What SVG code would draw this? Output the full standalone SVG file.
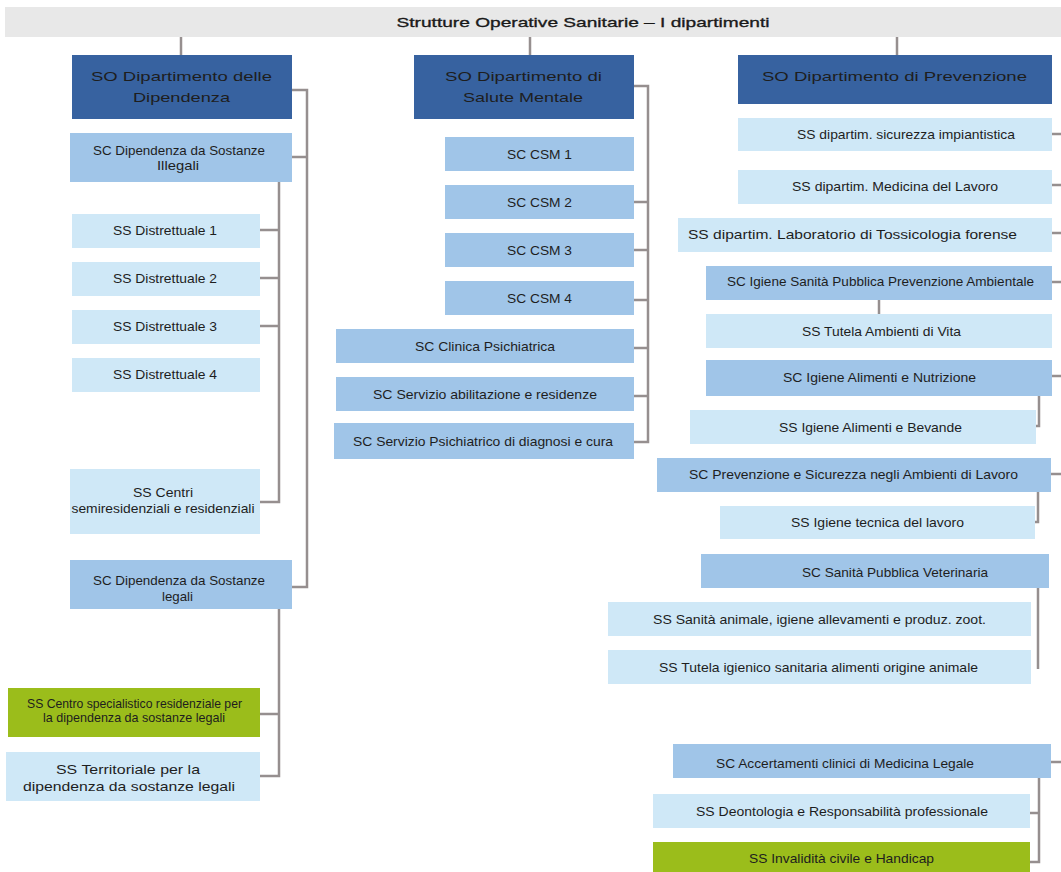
<svg xmlns="http://www.w3.org/2000/svg" width="1061" height="872" viewBox="0 0 1061 872">
<style>
text{font-family:"Liberation Sans",Arial,sans-serif;fill:#1e1e1e;text-anchor:middle;dominant-baseline:central;font-size:13px}
.dept{fill:#3762a0}
.dept text{fill:#ffffff;font-size:18px}
.sc{fill:#a0c5e8}
.ss{fill:#cfe8f7}
.gr{fill:#9bbd1b}
.con{stroke:#968f8f;fill:none;stroke-width:2.5}
</style>
<rect id="title-bar" x="5" y="7" width="1056" height="30" fill="#e8e8e8"/>
<text x="583" y="22" font-size="20" textLength="373" lengthAdjust="spacingAndGlyphs" fill="#111" stroke="#111" stroke-width="0.3">Strutture Operative Sanitarie – I dipartimenti</text>

<g id="connectors">
<path class="con" stroke-width="2" d="M181 37V55M530 37V55M897 37V55"/>
<path class="con" stroke-width="3" d="M292 90H307V587H292M292 157H307"/>
<path class="con" stroke-width="3" d="M279 182V502H260M260 230H279M260 278H279M260 326H279"/>
<path class="con" stroke-width="3" d="M279 609V776H260M260 714H279"/>
<path class="con" d="M634 86H648V442H634M634 202H648M634 250H648M634 300H648M634 348H648M634 396H648"/>
<path class="con" d="M1052 134H1061M1052 185H1061M1052 233H1061M1052 282H1061M1052 376H1061M1051 474H1061M1051 762H1061"/>
<path class="con" d="M879 300V314"/>
<path class="con" d="M1039 396V426H1036"/>
<path class="con" d="M1038 492V522H1035"/>
<path class="con" d="M1038 588V669"/>
<path class="con" d="M1039 778V862H1030M1030 813H1039"/>
</g>

<g id="dept-dipendenze"><rect class="dept" x="72" y="55" width="220" height="64"/>
<text x="181.5" y="76" textLength="181" lengthAdjust="spacingAndGlyphs">SO Dipartimento delle</text>
<text x="181.5" y="97" textLength="97" lengthAdjust="spacingAndGlyphs">Dipendenza</text></g>

<g id="dept-salute-mentale"><rect class="dept" x="414" y="55" width="220" height="64"/>
<text x="523.5" y="76" textLength="157" lengthAdjust="spacingAndGlyphs">SO Dipartimento di</text>
<text x="523" y="97" textLength="120" lengthAdjust="spacingAndGlyphs">Salute Mentale</text></g>

<g id="dept-prevenzione"><rect class="dept" x="738" y="55" width="314" height="49"/>
<text x="894.5" y="76" textLength="265" lengthAdjust="spacingAndGlyphs">SO Dipartimento di Prevenzione</text></g>

<g id="sc-illegali"><rect class="sc" x="70" y="133" width="222" height="49"/>
<text x="179" y="150" textLength="172" lengthAdjust="spacingAndGlyphs">SC Dipendenza da Sostanze</text>
<text x="178" y="165" textLength="42" lengthAdjust="spacingAndGlyphs">Illegali</text></g>

<g id="ss-distr-1"><rect class="ss" x="72" y="214" width="188" height="34"/>
<text x="165" y="230" textLength="104" lengthAdjust="spacingAndGlyphs">SS Distrettuale 1</text></g>
<g id="ss-distr-2"><rect class="ss" x="72" y="262" width="188" height="34"/>
<text x="165" y="278" textLength="104" lengthAdjust="spacingAndGlyphs">SS Distrettuale 2</text></g>
<g id="ss-distr-3"><rect class="ss" x="72" y="310" width="188" height="34"/>
<text x="165" y="326" textLength="104" lengthAdjust="spacingAndGlyphs">SS Distrettuale 3</text></g>
<g id="ss-distr-4"><rect class="ss" x="72" y="358" width="188" height="34"/>
<text x="165" y="374" textLength="104" lengthAdjust="spacingAndGlyphs">SS Distrettuale 4</text></g>

<g id="ss-centri"><rect class="ss" x="70" y="469" width="190" height="65"/>
<text x="163" y="492" font-size="11" textLength="60" lengthAdjust="spacingAndGlyphs">SS Centri</text>
<text x="163" y="508" textLength="183" lengthAdjust="spacingAndGlyphs">semiresidenziali e residenziali</text></g>

<g id="sc-legali"><rect class="sc" x="70" y="560" width="222" height="49"/>
<text x="179" y="580" textLength="172" lengthAdjust="spacingAndGlyphs">SC Dipendenza da Sostanze</text>
<text x="177.5" y="596" textLength="31" lengthAdjust="spacingAndGlyphs">legali</text></g>

<g id="ss-centro-specialistico"><rect class="gr" x="8" y="688" width="252" height="49"/>
<text x="134.5" y="703" font-size="12" textLength="215" lengthAdjust="spacingAndGlyphs">SS Centro specialistico residenziale per</text>
<text x="134" y="717" font-size="12" textLength="182" lengthAdjust="spacingAndGlyphs">la dipendenza da sostanze legali</text></g>

<g id="ss-territoriale"><rect class="ss" x="6" y="752" width="254" height="49"/>
<text x="128" y="769" font-size="15" textLength="144" lengthAdjust="spacingAndGlyphs">SS Territoriale per la</text>
<text x="129" y="786" font-size="15" textLength="212" lengthAdjust="spacingAndGlyphs">dipendenza da sostanze legali</text></g>

<g id="sc-csm-1"><rect class="sc" x="445" y="137" width="189" height="34"/>
<text x="539.5" y="154" textLength="65" lengthAdjust="spacingAndGlyphs">SC CSM 1</text></g>
<g id="sc-csm-2"><rect class="sc" x="445" y="185" width="189" height="34"/>
<text x="539.5" y="202" textLength="65" lengthAdjust="spacingAndGlyphs">SC CSM 2</text></g>
<g id="sc-csm-3"><rect class="sc" x="445" y="233" width="189" height="34"/>
<text x="539.5" y="250" textLength="65" lengthAdjust="spacingAndGlyphs">SC CSM 3</text></g>
<g id="sc-csm-4"><rect class="sc" x="445" y="281" width="189" height="34"/>
<text x="539.5" y="298" textLength="65" lengthAdjust="spacingAndGlyphs">SC CSM 4</text></g>
<g id="sc-clinica"><rect class="sc" x="336" y="329" width="298" height="34"/>
<text x="485" y="346" textLength="140" lengthAdjust="spacingAndGlyphs">SC Clinica Psichiatrica</text></g>
<g id="sc-abilitazione"><rect class="sc" x="336" y="377" width="298" height="34"/>
<text x="485" y="394" textLength="224" lengthAdjust="spacingAndGlyphs">SC Servizio abilitazione e residenze</text></g>
<g id="sc-diagnosi"><rect class="sc" x="334" y="423" width="300" height="36"/>
<text x="483" y="441" textLength="260" lengthAdjust="spacingAndGlyphs">SC Servizio Psichiatrico di diagnosi e cura</text></g>

<g id="ss-sicurezza"><rect class="ss" x="738" y="118" width="314" height="33"/>
<text x="906" y="134" textLength="218" lengthAdjust="spacingAndGlyphs">SS dipartim. sicurezza impiantistica</text></g>
<g id="ss-medicina"><rect class="ss" x="738" y="170" width="314" height="34"/>
<text x="895" y="186" textLength="206" lengthAdjust="spacingAndGlyphs">SS dipartim. Medicina del Lavoro</text></g>
<g id="ss-tossicologia"><rect class="ss" x="678" y="218" width="374" height="34"/>
<text x="852.5" y="234" font-size="15" textLength="329" lengthAdjust="spacingAndGlyphs">SS dipartim. Laboratorio di Tossicologia forense</text></g>
<g id="sc-igiene-sanita"><rect class="sc" x="706" y="266" width="346" height="34"/>
<text x="880.5" y="281" textLength="307" lengthAdjust="spacingAndGlyphs">SC Igiene Sanità Pubblica Prevenzione Ambientale</text></g>
<g id="ss-tutela-ambienti"><rect class="ss" x="706" y="314" width="346" height="34"/>
<text x="881.5" y="331" textLength="159" lengthAdjust="spacingAndGlyphs">SS Tutela Ambienti di Vita</text></g>
<g id="sc-igiene-alimenti"><rect class="sc" x="706" y="360" width="346" height="36"/>
<text x="879.5" y="377" textLength="193" lengthAdjust="spacingAndGlyphs">SC Igiene Alimenti e Nutrizione</text></g>
<g id="ss-igiene-bevande"><rect class="ss" x="690" y="410" width="346" height="34"/>
<text x="870.5" y="427" textLength="183" lengthAdjust="spacingAndGlyphs">SS Igiene Alimenti e Bevande</text></g>
<g id="sc-prevenzione-lavoro"><rect class="sc" x="657" y="458" width="394" height="34"/>
<text x="853.5" y="474" textLength="329" lengthAdjust="spacingAndGlyphs">SC Prevenzione e Sicurezza negli Ambienti di Lavoro</text></g>
<g id="ss-igiene-tecnica"><rect class="ss" x="720" y="506" width="315" height="33"/>
<text x="877.5" y="522" textLength="173" lengthAdjust="spacingAndGlyphs">SS Igiene tecnica del lavoro</text></g>
<g id="sc-veterinaria"><rect class="sc" x="701" y="554" width="348" height="34"/>
<text x="895" y="572" textLength="186" lengthAdjust="spacingAndGlyphs">SC Sanità Pubblica Veterinaria</text></g>
<g id="ss-sanita-animale"><rect class="ss" x="608" y="602" width="423" height="34"/>
<text x="819.5" y="619" textLength="333" lengthAdjust="spacingAndGlyphs">SS Sanità animale, igiene allevamenti e produz. zoot.</text></g>
<g id="ss-tutela-igienico"><rect class="ss" x="608" y="650" width="423" height="34"/>
<text x="818.5" y="667" textLength="319" lengthAdjust="spacingAndGlyphs">SS Tutela igienico sanitaria alimenti origine animale</text></g>
<g id="sc-accertamenti"><rect class="sc" x="673" y="744" width="378" height="34"/>
<text x="845" y="763" textLength="258" lengthAdjust="spacingAndGlyphs">SC Accertamenti clinici di Medicina Legale</text></g>
<g id="ss-deontologia"><rect class="ss" x="653" y="794" width="377" height="34"/>
<text x="842" y="811" textLength="292" lengthAdjust="spacingAndGlyphs">SS Deontologia e Responsabilità professionale</text></g>
<g id="ss-invalidita"><rect class="gr" x="653" y="842" width="377" height="30"/>
<text x="841.5" y="858" textLength="185" lengthAdjust="spacingAndGlyphs">SS Invalidità civile e Handicap</text></g>
</svg>
